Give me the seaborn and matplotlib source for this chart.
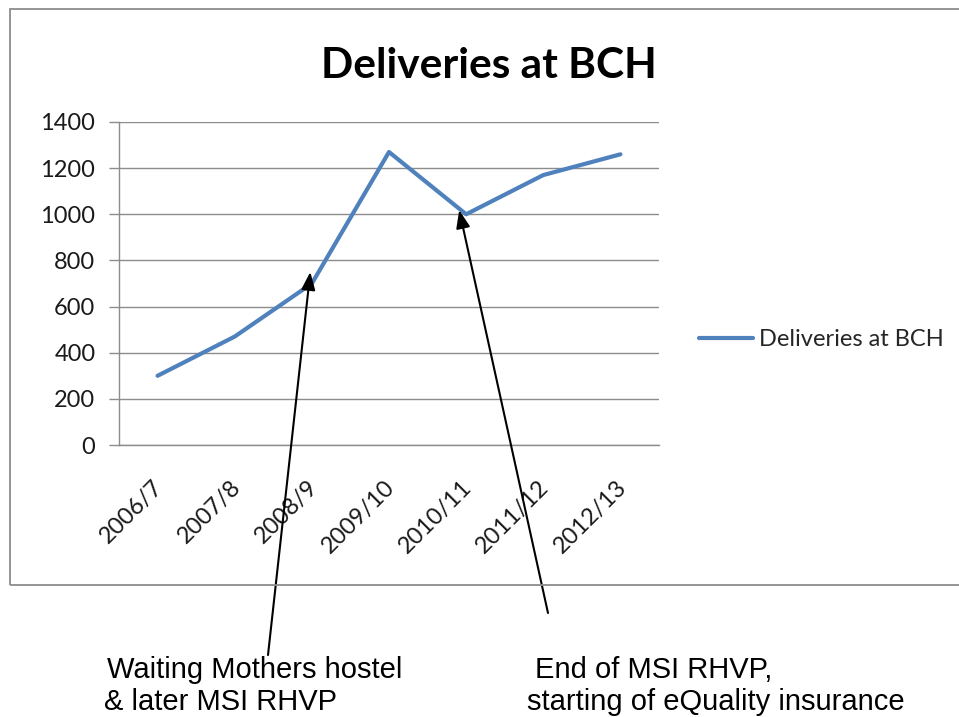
import matplotlib
matplotlib.use("Agg")
import matplotlib.pyplot as plt
import matplotlib.transforms as mtransforms
from matplotlib.patches import Rectangle
import seaborn as sns
import pandas as pd

years = ["2006/7", "2007/8", "2008/9", "2009/10", "2010/11", "2011/12", "2012/13"]
deliveries = [300, 470, 700, 1270, 1000, 1170, 1260]
series_name = "Deliveries at BCH"
y_ticks = [0, 200, 400, 600, 800, 1000, 1200, 1400]
note_left = ["Waiting Mothers hostel", "& later MSI RHVP"]
note_right = ["End of MSI RHVP,", "starting of eQuality insurance"]

sns.set_theme(style="white")
plt.rcParams["font.family"] = ["Lato", "DejaVu Sans"]

W, H = 959, 717
fig = plt.figure(figsize=(W / 100, H / 100), dpi=100)
fig.patch.set_facecolor("white")

def fx(px):
    return px / W

def fy(py):
    return (H - py) / H

# chart frame
fig.patches.append(Rectangle((fx(10), fy(585)), 1.2, fy(9) - fy(585),
                             transform=fig.transFigure, fill=False,
                             edgecolor="#8c8c8c", linewidth=1.3, zorder=0))

ax = fig.add_axes([fx(119), fy(445), fx(659) - fx(119), fy(122) - fy(445)])
df = pd.DataFrame({"Year": years, "Deliveries": deliveries})
sns.lineplot(data=df, x="Year", y="Deliveries", ax=ax, color="#4F81BD",
             linewidth=3.0, label=series_name, sort=False)

ax.set_xlim(-0.5, len(years) - 0.5)
ax.set_ylim(0, 1400)
ax.set_yticks(y_ticks)
ax.set_yticklabels([str(v) for v in y_ticks], fontsize=17, color="#1a1a1a")
ax.yaxis.grid(True, color="#8c8c8c", linewidth=1.0)
ax.set_axisbelow(True)

ax.set_xticks([i - 0.5 for i in range(len(years) + 1)])
ax.set_xticklabels([""] * (len(years) + 1))
ax.set_xticks(range(len(years)), minor=True)
ax.set_xticklabels(years, minor=True, rotation=45, ha="right",
                   rotation_mode="anchor", fontsize=17, color="#1a1a1a")
ax.tick_params(axis="x", which="minor", length=0, pad=4)
ax.tick_params(axis="x", which="major", length=7, width=1, color="#8c8c8c", direction="out")
ax.tick_params(axis="y", length=7, width=1, color="#8c8c8c", direction="out", pad=10, left=True)
ax.set_xlabel("")
ax.set_ylabel("")
shift = mtransforms.ScaledTranslation(-5 / 100, -26 / 100, fig.dpi_scale_trans)
for lab in ax.get_xticklabels(minor=True):
    lab.set_transform(lab.get_transform() + shift)

for s in ["top", "right"]:
    ax.spines[s].set_visible(False)
for s in ["left", "bottom"]:
    ax.spines[s].set_color("#8c8c8c")
    ax.spines[s].set_linewidth(1.0)

fig.text(fx(489), fy(78), series_name, ha="center", va="baseline",
         fontsize=30.5, fontweight="bold", color="black")

ax.legend(loc="center left", bbox_to_anchor=(fx(699), fy(340)),
          bbox_transform=fig.transFigure, frameon=False, fontsize=17,
          borderpad=0, borderaxespad=0, handlelength=2.3, handletextpad=0.25)

# annotations
arrow_kw = dict(arrowstyle="-|>,head_length=0.9,head_width=0.35", color="black",
                lw=1.5, shrinkA=0, shrinkB=0)
ax.annotate("", xy=(1.98, 750), xycoords="data",
            xytext=(fx(268), fy(655)), textcoords="figure fraction",
            arrowprops=arrow_kw, annotation_clip=False)
ax.annotate("", xy=(3.91, 1018), xycoords="data",
            xytext=(fx(548), fy(613)), textcoords="figure fraction",
            arrowprops=arrow_kw, annotation_clip=False)

note_font = ["Liberation Sans", "DejaVu Sans"]
for (x1, x2), lines in (((107, 104), note_left), ((535, 527), note_right)):
    fig.text(fx(x1), fy(678), lines[0], ha="left", va="baseline", fontsize=21,
             family=note_font, color="black")
    fig.text(fx(x2), fy(710), lines[1], ha="left", va="baseline", fontsize=21,
             family=note_font, color="black")

fig.savefig("out.png", dpi=100, facecolor="white")
